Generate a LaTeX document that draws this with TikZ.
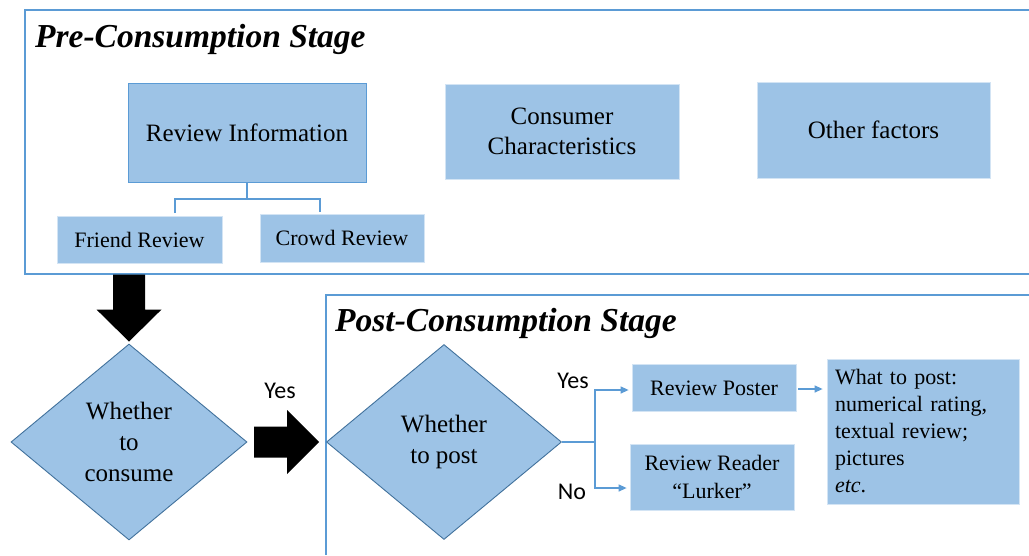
\documentclass[tikz,border=0pt]{standalone}
\usepackage{fontspec}
\setmainfont{Liberation Serif}
\newfontfamily\labelfont{Carlito}
\usetikzlibrary{shapes.geometric,arrows.meta,calc}
\definecolor{boxfill}{RGB}{157,195,230}
\definecolor{framecol}{RGB}{91,155,213}
\definecolor{diaedge}{RGB}{65,113,156}
\definecolor{linecol}{RGB}{91,155,213}

\begin{document}
\begin{tikzpicture}[x=1pt,y=-1pt,
  bigbox/.style={draw=white!55!boxfill, line width=0.8pt, fill=boxfill, inner sep=0pt,
    align=center, font=\fontsize{25}{30}\selectfont},
  smallbox/.style={bigbox, font=\fontsize{22}{28}\selectfont},
  decision/.style={diamond, draw=diaedge, line width=0.9pt, fill=boxfill, inner sep=0pt,
    align=center, font=\fontsize{25}{31}\selectfont},
  frame/.style={draw=framecol, line width=1.4pt},
  stagetitle/.style={anchor=base west, inner sep=0pt,
    font=\fontsize{33.5}{40}\selectfont\bfseries\itshape},
  link/.style={draw=linecol, line width=1.3pt},
  flow/.style={link, -{Triangle[length=8pt,width=7pt]}},
  answer/.style={inner sep=0pt, font=\labelfont\fontsize{24}{28}\selectfont},
  blockarrow/.style={fill=black}
]
\useasboundingbox (0,0) rectangle (1029,555);
\fill[white] (0,0) rectangle (1029,555);

% stage frames (open to the right and bottom)
\draw[frame] (1029,10) -- (25,10) -- (25,274) -- (1029,274);
\draw[frame] (1029,295) -- (326,295) -- (326,555);

% pre-consumption stage
\node[stagetitle] (pretitle) at (35,47) {Pre-Consumption Stage};
\node[bigbox, draw=framecol, minimum width=238pt, minimum height=99pt] (ri) at (247,132.5) {Review Information};
\node[bigbox, minimum width=234pt, minimum height=95pt] (cc) at (562,131.5) {Consumer\\Characteristics};
\node[bigbox, minimum width=233pt, minimum height=96pt] (of) at (873.5,130) {Other factors};
\node[smallbox, minimum width=165pt, minimum height=47pt] (fr) at (139.5,239.5) {Friend Review};
\node[smallbox, minimum width=164pt, minimum height=48pt] (cr) at (342,238) {Crowd Review};

% tree from review information to its two kinds
\coordinate (split) at (247,199);
\coordinate (frtop) at (175,213);
\coordinate (crtop) at (320,212);
\draw[link] (ri.south) -- (split);
\draw[link] (frtop) |- (split) -| (crtop);

% decisions
\node[decision, minimum width=236pt, minimum height=196pt] (wc) at (129,442) {Whether\\to\\consume};
\node[decision, minimum width=235pt, minimum height=195pt] (wp) at (444,442) {Whether\\to post};

% block arrows
\fill[blockarrow] ($(wc.north)+(0,-2)$) -- ++(32.5,-32) -- ++(-16.5,0) -- ++(0,-35)
  -- ++(-32,0) -- ++(0,35) -- ++(-16.5,0) -- cycle;
\fill[blockarrow] ($(wp.west)+(-7,0)$) -- ++(-32,-32) -- ++(0,16.5) -- ++(-33,0)
  -- ++(0,31) -- ++(33,0) -- ++(0,16.5) -- cycle;
\node[answer] (yesconsume) at (280,391) {Yes};

% post-consumption stage
\node[stagetitle] (posttitle) at (335,331) {Post-Consumption Stage};
\node[smallbox, minimum width=164pt, minimum height=47pt] (rp) at (714,388) {Review Poster};
\node[smallbox, minimum width=164pt, minimum height=66pt] (rr) at (712,477) {Review Reader\\“Lurker”};
\node[smallbox, minimum width=192pt, minimum height=145pt, align=left, text width=176pt,
  font=\fontsize{22}{27}\selectfont] (wt) at (923,431.5)
  {What to post:\\numerical rating,\\textual review;\\pictures\\\textit{etc}.};

\coordinate (fork) at (595,442);
\draw[link] (wp.east) -- (fork);
\draw[flow] (fork) |- ($(rp.west)+(-3,2)$);
\draw[flow] (fork) |- ($(rr.west)+(-3,11)$);
\node[answer] (yespost) at (573,381) {Yes};
\node[answer] (nopost) at (572,492) {No};
\draw[flow] ($(rp.east)+(2,1)$) -- ($(rp.east -| wt.west)+(-4,1)$);
\end{tikzpicture}
\end{document}
